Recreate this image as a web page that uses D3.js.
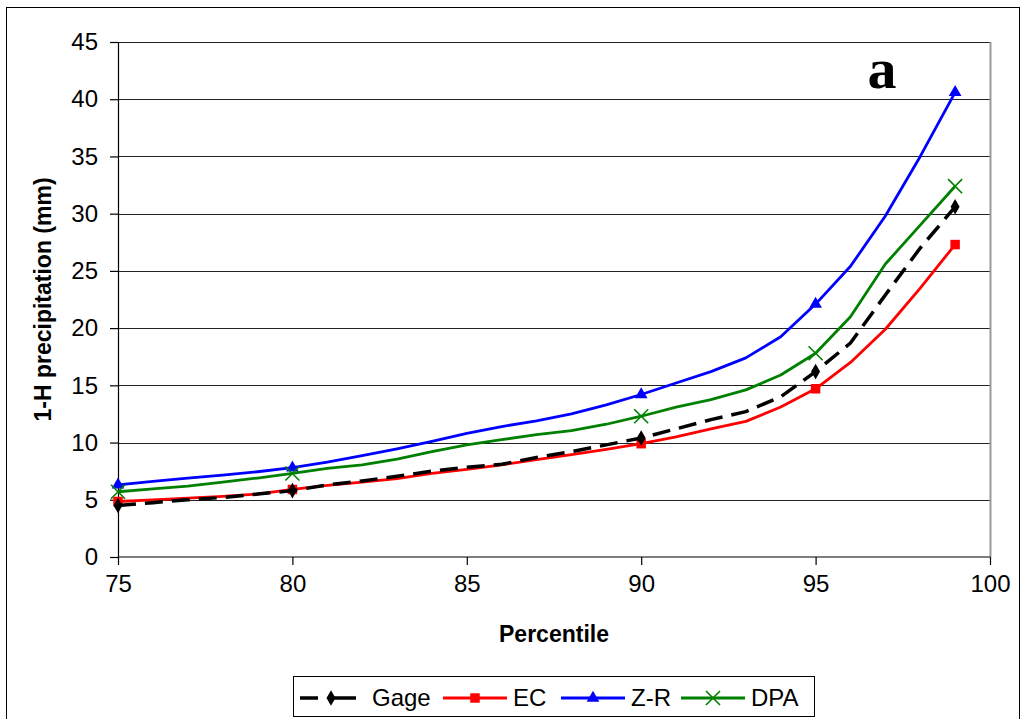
<!DOCTYPE html>
<html>
<head>
<meta charset="utf-8">
<script src="https://cdn.jsdelivr.net/npm/d3@7"></script>
<style>
  body { margin: 0; background: #fff; }
  text { font-family: "Liberation Sans", Arial, sans-serif; }
</style>
</head>
<body>
<div id="chart"></div>
<script>
var svgWidth = 1027;
var svgHeight = 719;

// percentile levels and 1-H precipitation (mm) for each estimate
var percentiles = [75, 76, 77, 78, 79, 80, 81, 82, 83, 84, 85, 86, 87, 88, 89, 90, 91, 92, 93, 94, 95, 96, 97, 98, 99];
var gage = [4.5, 4.75, 5.0, 5.2, 5.5, 5.8, 6.3, 6.65, 7.05, 7.5, 7.85, 8.1, 8.7, 9.2, 9.8, 10.4, 11.2, 12.0, 12.7, 14.0, 16.2, 18.7, 22.9, 27.0, 30.6];
var ec = [4.85, 5.0, 5.15, 5.3, 5.5, 5.9, 6.25, 6.55, 6.85, 7.3, 7.65, 8.05, 8.5, 8.95, 9.4, 9.9, 10.5, 11.2, 11.85, 13.1, 14.7, 17.0, 19.9, 23.5, 27.3];
var zr = [6.3, 6.6, 6.9, 7.15, 7.45, 7.8, 8.3, 8.85, 9.45, 10.1, 10.8, 11.4, 11.9, 12.5, 13.3, 14.2, 15.2, 16.2, 17.4, 19.25, 22.1, 25.4, 29.8, 35.0, 40.6];
var dpa = [5.7, 5.95, 6.2, 6.55, 6.9, 7.3, 7.75, 8.05, 8.55, 9.2, 9.8, 10.25, 10.7, 11.05, 11.6, 12.3, 13.1, 13.75, 14.6, 15.9, 17.8, 21.0, 25.6, 29.0, 32.4];
var markerPercentiles = [75, 80, 90, 95, 99];

var xTicks = [75, 80, 85, 90, 95, 100];
var yTicks = [0, 5, 10, 15, 20, 25, 30, 35, 40, 45];

var series = [
  { name: "Gage", values: gage, color: "#000000", dash: "18,9", width: 3.5, marker: "diamond" },
  { name: "EC", values: ec, color: "#ff0000", dash: null, width: 2.8, marker: "square" },
  { name: "Z-R", values: zr, color: "#0000ff", dash: null, width: 2.8, marker: "triangle" },
  { name: "DPA", values: dpa, color: "#008000", dash: null, width: 2.8, marker: "x" }
];

var margin = { top: 42, right: 37, bottom: 162, left: 118 };
var width = svgWidth - margin.left - margin.right;
var height = svgHeight - margin.top - margin.bottom;

var svg = d3.select("#chart")
  .append("svg")
  .attr("width", svgWidth)
  .attr("height", svgHeight);

// outer chart border
svg.append("rect")
  .attr("x", 6.5).attr("y", 7.5)
  .attr("width", 1013).attr("height", 730)
  .attr("fill", "none")
  .attr("stroke", "#000")
  .attr("stroke-width", 1);

var chartGroup = svg.append("g")
  .attr("transform", `translate(${margin.left}, ${margin.top})`);

var xScale = d3.scaleLinear().domain([75, 100]).range([0, width]);
var yScale = d3.scaleLinear().domain([0, 45]).range([height, 0]);

// gridlines
chartGroup.append("g")
  .selectAll("line")
  .data(yTicks.filter(d => d > 0))
  .enter()
  .append("line")
  .attr("x1", 0).attr("x2", width)
  .attr("y1", d => Math.round(yScale(d)) + 0.5)
  .attr("y2", d => Math.round(yScale(d)) + 0.5)
  .attr("stroke", "#222")
  .attr("stroke-width", 1);

// plot area right border
chartGroup.append("line")
  .attr("x1", width + 0.5).attr("x2", width + 0.5)
  .attr("y1", 0).attr("y2", height)
  .attr("stroke", "#999")
  .attr("stroke-width", 2);

// axes
var bottomAxis = d3.axisBottom(xScale).tickValues(xTicks).tickSize(8).tickPadding(10).tickFormat(d3.format("d"));
var leftAxis = d3.axisLeft(yScale).tickValues(yTicks).tickSize(8).tickPadding(12).tickFormat(d3.format("d"));

var xAxis = chartGroup.append("g")
  .attr("transform", `translate(0, ${height})`)
  .call(bottomAxis);

var yAxis = chartGroup.append("g")
  .call(leftAxis);

[xAxis, yAxis].forEach(function(ax) {
  ax.select(".domain").attr("stroke", "#000").attr("stroke-width", 1.2);
  ax.selectAll(".tick line").attr("stroke", "#000").attr("stroke-width", 1.2);
  ax.selectAll(".tick text")
    .attr("fill", "#000")
    .style("font-size", "24px")
    .style("font-family", "Liberation Sans, Arial, sans-serif");
});
xAxis.select(".domain").attr("d", `M0.5,0H${width}`);
yAxis.select(".domain").attr("d", `M0.5,0V${height}`);

// lines
var line = d3.line()
  .x(d => xScale(d.p))
  .y(d => yScale(d.v));

function symbolPath(type, size) {
  if (type === "diamond") return d3.symbol(d3.symbolDiamond, size)();
  if (type === "square") return d3.symbol(d3.symbolSquare, size)();
  if (type === "triangle") return d3.symbol(d3.symbolTriangle, size)();
  return d3.symbol(d3.symbolTimes, size)();
}

function drawMarker(g, s, x, y) {
  var sizes = { diamond: 70, square: 90, triangle: 70, x: 130 };
  var m = g.append("path")
    .attr("d", symbolPath(s.marker, sizes[s.marker]))
    .attr("transform", `translate(${x}, ${y})`);
  if (s.marker === "x") {
    m.attr("fill", "none").attr("stroke", s.color).attr("stroke-width", 1.6);
  } else {
    m.attr("fill", s.color).attr("stroke", "none");
  }
}

var drawOrder = [2, 3, 1, 0];
drawOrder.forEach(function(i) {
  var s = series[i];
  var pts = percentiles.map((p, j) => ({ p: p, v: s.values[j] }));
  chartGroup.append("path")
    .datum(pts)
    .attr("d", line)
    .attr("fill", "none")
    .attr("stroke", s.color)
    .attr("stroke-width", s.width)
    .attr("stroke-dasharray", s.dash)
    .attr("stroke-linejoin", "round");

  pts.filter(d => markerPercentiles.indexOf(d.p) >= 0).forEach(function(d) {
    drawMarker(chartGroup, s, xScale(d.p), yScale(d.v));
  });
});

// panel label
svg.append("text")
  .attr("x", 882).attr("y", 88)
  .attr("text-anchor", "middle")
  .style("font-family", "Liberation Serif, Times New Roman, serif")
  .style("font-weight", "bold")
  .style("font-size", "58px")
  .text("a");

// axis titles
svg.append("text")
  .attr("x", margin.left + width / 2)
  .attr("y", 642)
  .attr("text-anchor", "middle")
  .style("font-weight", "bold")
  .style("font-size", "23px")
  .text("Percentile");

svg.append("text")
  .attr("transform", `translate(51, ${margin.top + height / 2}) rotate(-90)`)
  .attr("text-anchor", "middle")
  .style("font-weight", "bold")
  .style("font-size", "23px")
  .text("1-H precipitation (mm)");

// legend
var legend = svg.append("g");
legend.append("rect")
  .attr("x", 293.5).attr("y", 676.5)
  .attr("width", 521).attr("height", 40)
  .attr("fill", "#fff")
  .attr("stroke", "#000")
  .attr("stroke-width", 1);

var legendX = [300, 443, 561, 681];
series.forEach(function(s, i) {
  var x0 = legendX[i];
  var ly = 698;
  legend.append("line")
    .attr("x1", x0).attr("x2", x0 + (s.dash ? 56 : 64))
    .attr("y1", ly).attr("y2", ly)
    .attr("stroke", s.color)
    .attr("stroke-width", s.width)
    .attr("stroke-dasharray", s.dash ? "18,10,40" : null);
  drawMarker(legend, s, x0 + (s.dash ? 31 : 32), ly);
  legend.append("text")
    .attr("x", x0 + 70 + (i === 0 ? 2 : 0))
    .attr("y", 706)
    .style("font-size", "24px")
    .text(s.name);
});
</script>
</body>
</html>
